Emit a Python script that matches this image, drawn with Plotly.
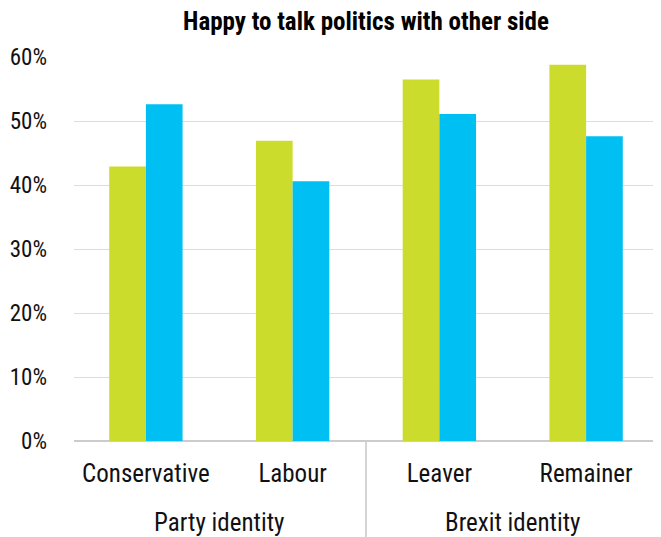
import plotly.graph_objects as go

groups = ["<br>Party identity", "<br>Party identity", "<br>Brexit identity", "<br>Brexit identity"]
categories = ["Conservative", "Labour", "Leaver", "Remainer"]
series_a = [42.9, 46.9, 56.5, 58.8]   # green
series_b = [52.6, 40.6, 51.1, 47.6]   # blue
y_ticks = [0, 10, 20, 30, 40, 50, 60]
y_labels = ["0%", "10%", "20%", "30%", "40%", "50%", "60%"]

FONT = "Roboto Condensed, Liberation Sans Narrow, Arial Narrow, sans-serif"

fig = go.Figure()
fig.add_trace(go.Bar(x=[groups, categories], y=series_a, marker=dict(color="#cbdc2c", line=dict(width=0)), name="A"))
fig.add_trace(go.Bar(x=[groups, categories], y=series_b, marker=dict(color="#00bff3", line=dict(width=0)), name="B"))

# page has an 8px body margin, so the figure is 653x529 and offsets are compensated
fig.update_layout(
    width=653, height=529,
    margin=dict(l=66, r=3, t=49, b=96),
    paper_bgcolor="white", plot_bgcolor="white",
    barmode="group", bargap=0.5, bargroupgap=0,
    showlegend=False,
    font=dict(family=FONT, size=23, color="#111"),
    title=dict(text="<b>Happy to talk politics with other side</b>", x=0.5, xref="paper",
               y=0.975, yref="container", xanchor="center", yanchor="middle",
               font=dict(family=FONT, size=25, color="#000")),
)
fig.update_yaxes(range=[0, 60], tickvals=y_ticks, ticktext=y_labels, showgrid=True,
                 gridcolor="#dddddd", gridwidth=1, zeroline=True, zerolinecolor="#cccccc",
                 zerolinewidth=2, ticks="", ticklabelstandoff=26, showline=False, automargin=False)
fig.update_xaxes(showgrid=False, showline=False, ticks="", showdividers=True, range=[-0.49, 3.49],
                 dividercolor="#d5d5d5", dividerwidth=2, tickfont=dict(size=25),
                 ticklabelstandoff=15, automargin=False)

fig.write_html("out.html")
